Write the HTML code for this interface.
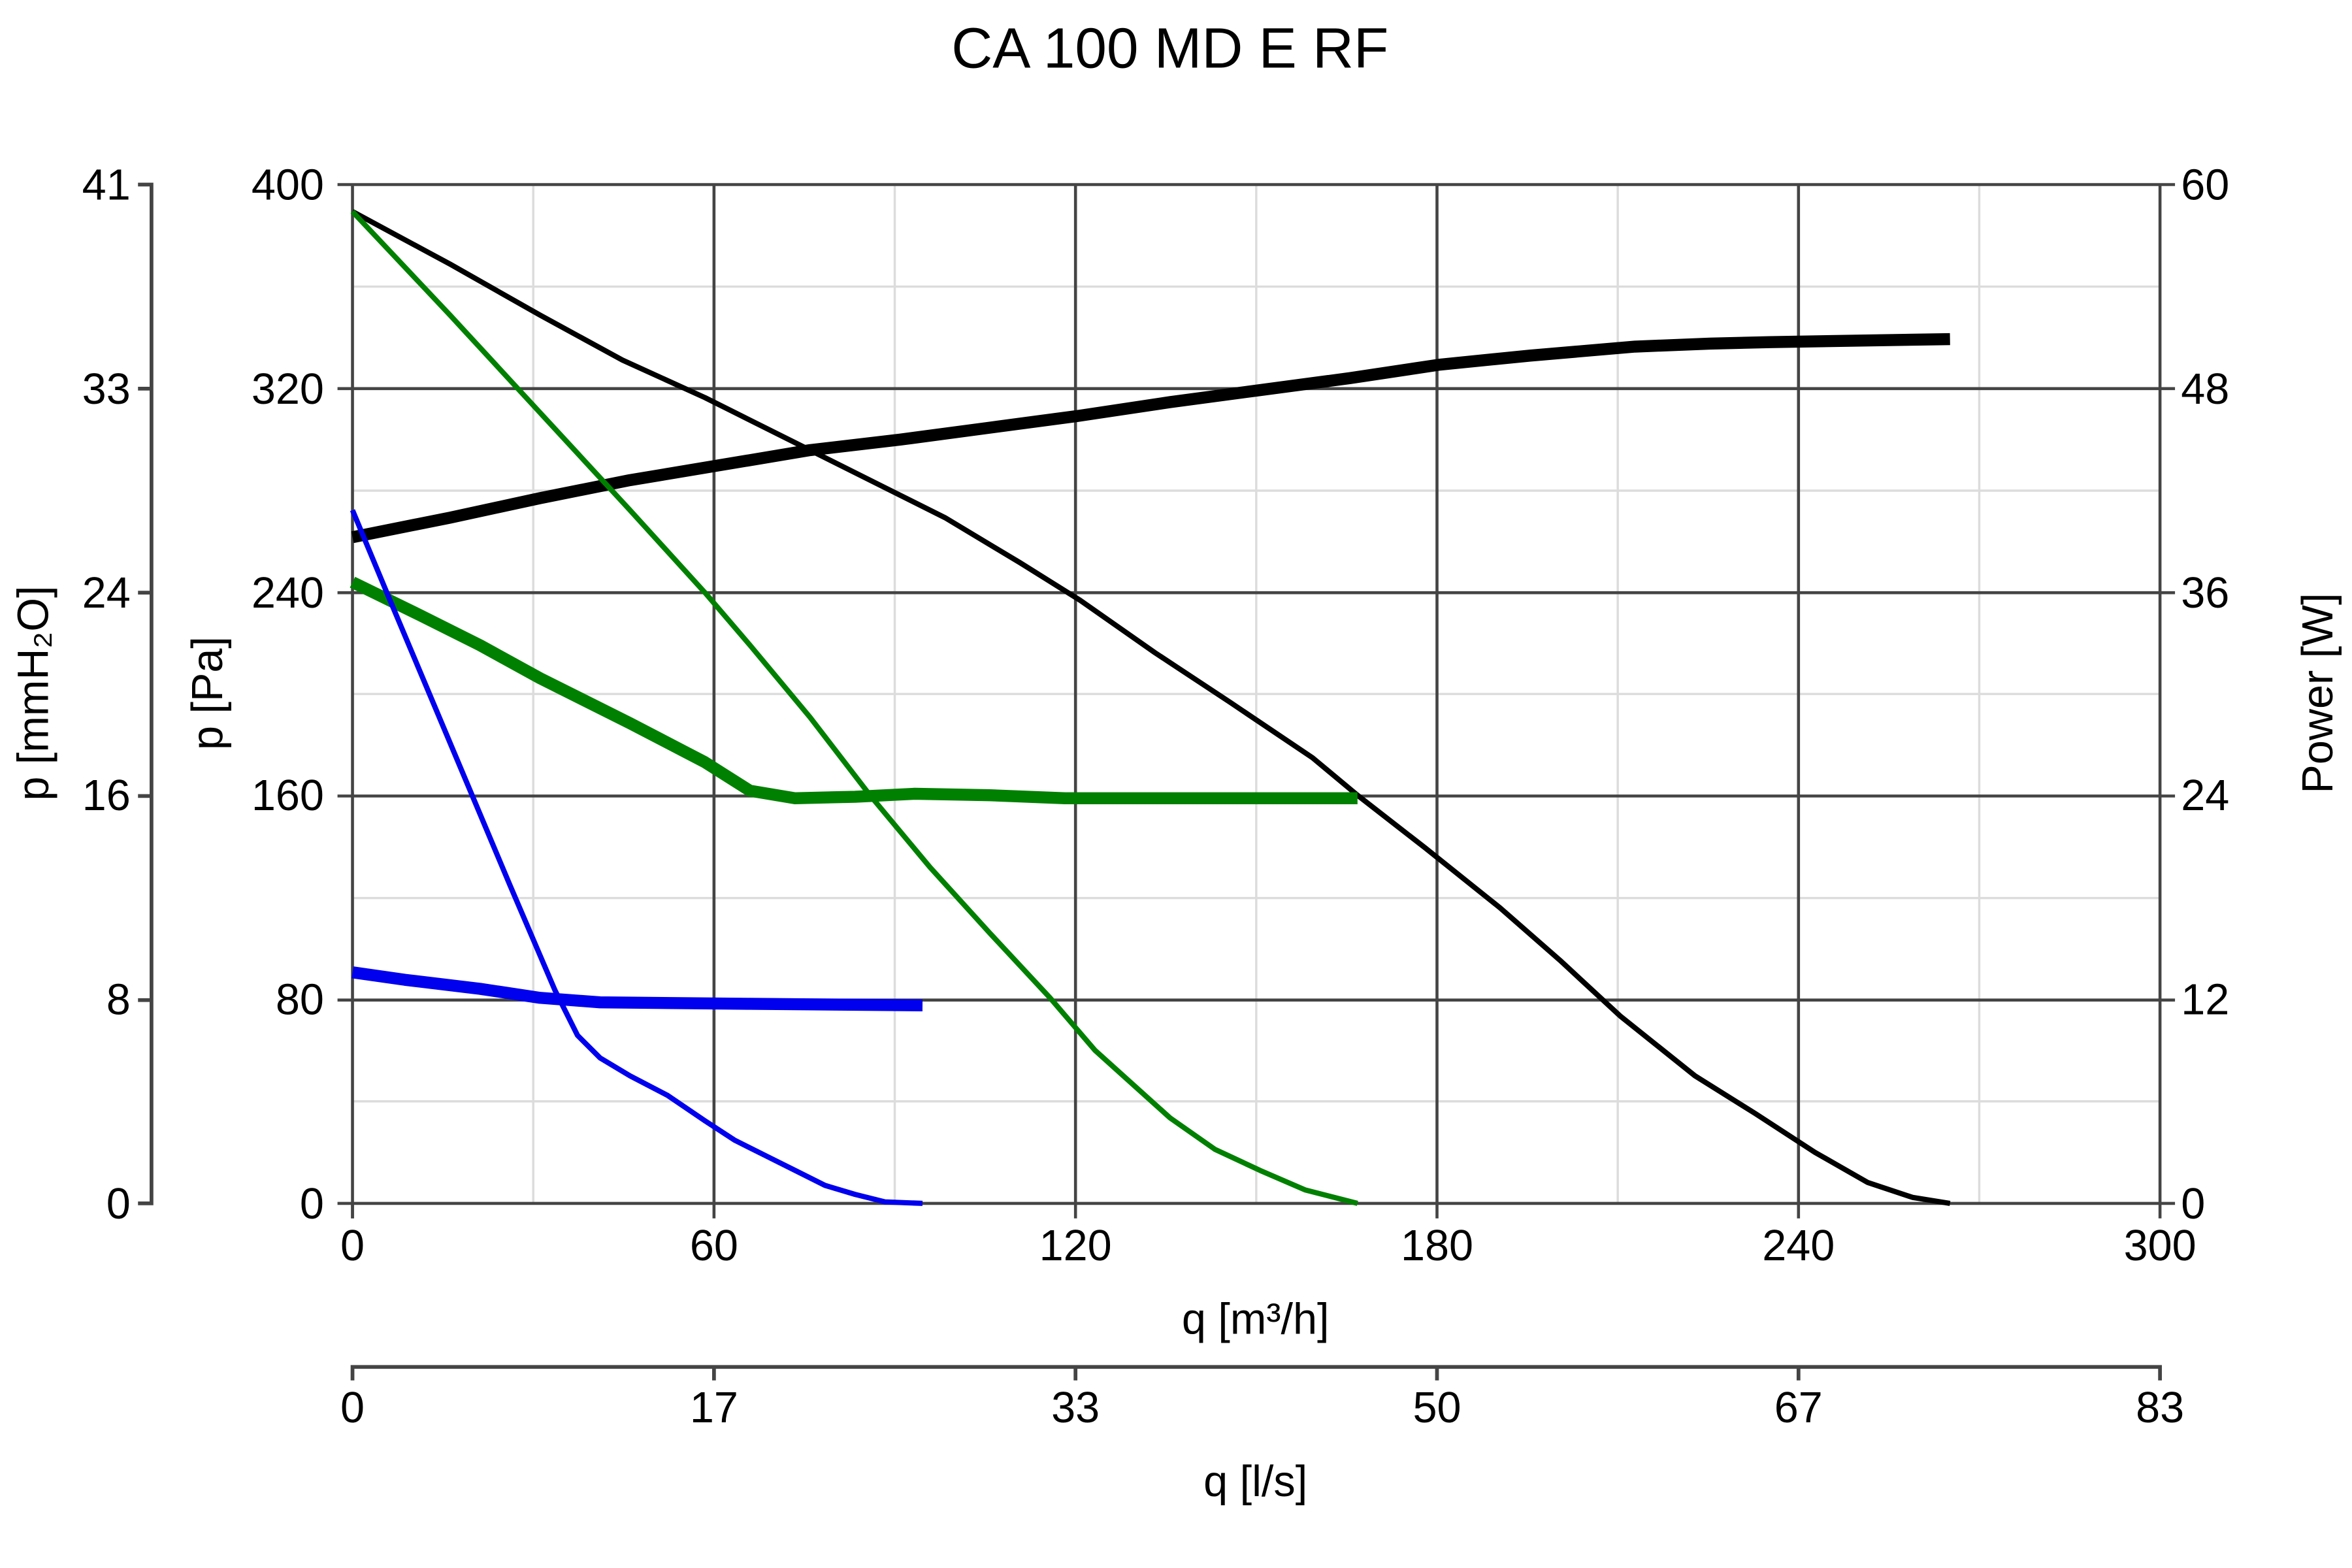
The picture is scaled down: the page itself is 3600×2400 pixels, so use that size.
<!DOCTYPE html>
<html><head><meta charset="utf-8"><style>html,body{margin:0;padding:0;background:#fff}svg{display:block}</style></head>
<body>
<svg width="3600" height="2400" viewBox="0 0 1568 1045" preserveAspectRatio="none" xmlns="http://www.w3.org/2000/svg" font-family="Liberation Sans, sans-serif">
<rect width="1568" height="1045" fill="#fff"/>
<text x="780" y="45" font-size="38" text-anchor="middle">CA 100 MD E RF</text>
<g stroke="#dcdcdc" stroke-width="1.5">
<line x1="355.5" y1="123" x2="355.5" y2="802"/><line x1="596.5" y1="123" x2="596.5" y2="802"/><line x1="837.5" y1="123" x2="837.5" y2="802"/><line x1="1078.5" y1="123" x2="1078.5" y2="802"/><line x1="1319.5" y1="123" x2="1319.5" y2="802"/>
<line x1="235" y1="191" x2="1440" y2="191"/><line x1="235" y1="327" x2="1440" y2="327"/><line x1="235" y1="462.5" x2="1440" y2="462.5"/><line x1="235" y1="598.5" x2="1440" y2="598.5"/><line x1="235" y1="734" x2="1440" y2="734"/>
</g>
<g stroke="#444" stroke-width="2">
<line x1="476" y1="123" x2="476" y2="802"/><line x1="717" y1="123" x2="717" y2="802"/><line x1="958" y1="123" x2="958" y2="802"/><line x1="1199" y1="123" x2="1199" y2="802"/>
<line x1="225" y1="123" x2="1450" y2="123"/><line x1="225" y1="259" x2="1450" y2="259"/><line x1="225" y1="395" x2="1450" y2="395"/><line x1="225" y1="530.5" x2="1450" y2="530.5"/><line x1="225" y1="666.5" x2="1450" y2="666.5"/><line x1="225" y1="802" x2="1450" y2="802"/>
<line x1="235" y1="123" x2="235" y2="812"/><line x1="1440" y1="123" x2="1440" y2="812"/>
<line x1="235" y1="802" x2="235" y2="812"/><line x1="476" y1="802" x2="476" y2="812"/><line x1="717" y1="802" x2="717" y2="812"/><line x1="958" y1="802" x2="958" y2="812"/><line x1="1199" y1="802" x2="1199" y2="812"/>
</g>
<g stroke="#444" stroke-width="2.5" fill="none">
<path d="M92 123H101V802H92"/><path d="M92 259H101M92 395H101M92 530.5H101M92 666.5H101"/>
<path d="M235 920V911H1440V920"/><path d="M476 911V920M717 911V920M958 911V920M1199 911V920"/>
</g>
<g font-size="29" text-anchor="end">
<text x="216" y="133">400</text><text x="216" y="269">320</text><text x="216" y="405">240</text><text x="216" y="540">160</text><text x="216" y="676">80</text><text x="216" y="812">0</text>
<text x="87" y="133">41</text><text x="87" y="269">33</text><text x="87" y="405">24</text><text x="87" y="540">16</text><text x="87" y="676">8</text><text x="87" y="812">0</text>
</g>
<g font-size="29" text-anchor="start">
<text x="1454" y="133">60</text><text x="1454" y="269">48</text><text x="1454" y="405">36</text><text x="1454" y="540">24</text><text x="1454" y="676">12</text><text x="1454" y="812">0</text>
</g>
<g font-size="29" text-anchor="middle">
<text x="235" y="840">0</text><text x="476" y="840">60</text><text x="717" y="840">120</text><text x="958" y="840">180</text><text x="1199" y="840">240</text><text x="1440" y="840">300</text>
<text x="235" y="948">0</text><text x="476" y="948">17</text><text x="717" y="948">33</text><text x="958" y="948">50</text><text x="1199" y="948">67</text><text x="1440" y="948">83</text>
<text x="837" y="889">q [m³/h]</text><text x="837" y="997">q [l/s]</text>
<text transform="translate(148,462) rotate(-90)">p [Pa]</text>
<text transform="translate(32,462) rotate(-90)">p [mmH₂O]</text>
<text transform="translate(1555,462) rotate(-90)">Power [W]</text>
</g>
<g fill="none" stroke-linejoin="round" stroke-linecap="butt">
<polyline stroke="#000" stroke-width="3.5" points="235,141 300,176 360,210 415,240 470,265 530,295 590,325 630,345 680,375 720,400 770,435 820,468 875,505 905,530 950,565 1000,605 1040,640 1080,677 1130,717 1170,742 1210,768 1245,788 1275,798 1300,802"/>
<polyline stroke="#000" stroke-width="8" points="235,358 300,345 360,332 420,320 480,310 540,300 600,293 660,285 720,277 780,268 840,260 900,252 960,243 1020,237 1090,231 1140,229 1180,228 1300,226"/>
<polyline stroke="#008000" stroke-width="3.5" points="235,141 300,210 360,275 420,340 470,395 500,430 540,478 580,530 620,578 660,622 700,665 730,700 750,718 780,745 810,766 840,780 870,793 905,802"/>
<polyline stroke="#008000" stroke-width="8" points="235,388 280,410 320,430 360,452 420,482 470,508 500,527 530,532 570,531 610,529 660,530 710,532 905,532"/>
<polyline stroke="#0000ee" stroke-width="3.5" points="235,340 260,400 300,495 340,590 370,660 385,690 400,705 420,717 445,730 470,747 490,760 510,770 530,780 550,790 570,796 590,801 615,802"/>
<polyline stroke="#0000ee" stroke-width="8" points="235,648 270,653 320,659 360,665 400,668 500,669 615,670"/>
</g>
</svg>
</body></html>
